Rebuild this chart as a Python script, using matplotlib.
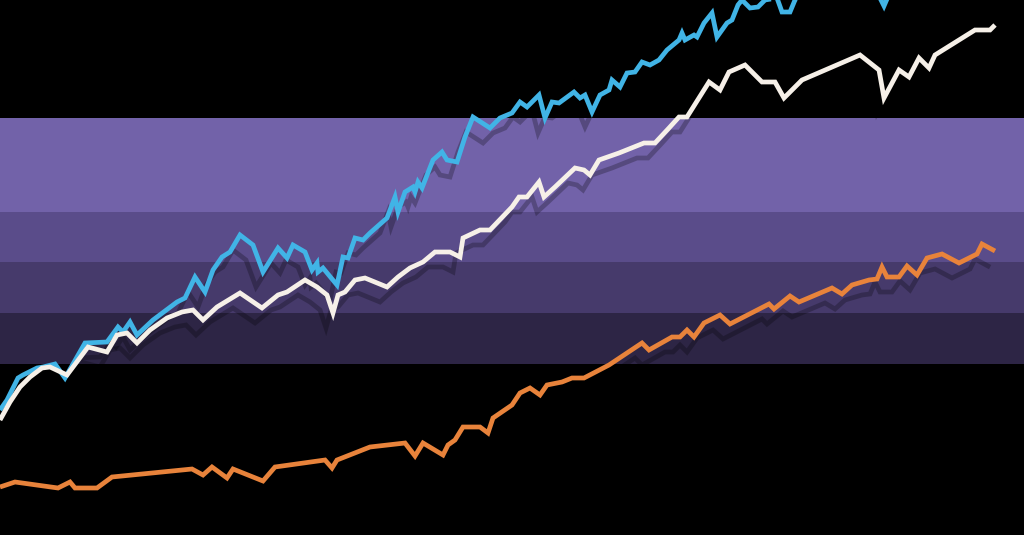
import matplotlib
matplotlib.use("Agg")
import matplotlib.pyplot as plt
import matplotlib.transforms as mtransforms

# values (x position, height in pixel rows from top)
blue_x = [0, 7, 18, 23, 37, 43, 55, 65, 85, 107, 118, 123, 130, 137, 153, 177, 185, 195, 205,
          213, 222, 230, 240, 253, 263, 278, 287, 293, 305, 312, 317, 318, 323, 337, 343, 348,
          355, 363, 370, 387, 395, 398, 405, 413, 415, 418, 422, 433, 442, 447, 457, 465, 473,
          490, 500, 512, 520, 527, 539, 545, 552, 559, 574, 580, 585, 592, 600, 609, 612, 620,
          627, 635, 642, 650, 659, 667, 679, 682, 685, 694, 697, 704, 712, 717, 727, 732, 738,
          742, 750, 758, 765, 777, 782, 790, 795, 810, 840, 865, 880, 884, 890, 930, 1000, 1024]
blue_y = [410, 400, 378, 375, 368, 367, 364, 378, 343, 342, 327, 332, 322, 335, 320, 302, 298, 277, 292,
          270, 257, 252, 235, 245, 272, 248, 258, 245, 252, 270, 263, 272, 268, 285, 257, 258,
          238, 240, 233, 218, 197, 212, 192, 187, 192, 182, 188, 160, 152, 160, 162, 137, 117,
          128, 118, 113, 102, 107, 95, 118, 102, 103, 92, 98, 95, 112, 95, 90, 80, 87,
          73, 72, 62, 65, 60, 50, 40, 33, 40, 35, 37, 23, 13, 37, 23, 20, 5,
          0, 8, 7, 0, -2, 12, 12, 0, -15, -25, -15, -2, 6, -8, -25, -40, -45]

white_x = [0, 10, 20, 30, 42, 50, 67, 88, 107, 117, 127, 137, 150, 167, 182, 193, 203, 217, 240,
           262, 278, 287, 305, 317, 327, 333, 338, 345, 355, 365, 387, 398, 410, 423, 435, 450,
           460, 463, 480, 490, 512, 519, 527, 539, 544, 555, 575, 584, 590, 599, 619, 644, 655,
           669, 679, 687, 709, 720, 729, 745, 762, 775, 784, 802, 860, 879, 884, 899, 909, 919,
           929, 935, 975, 990, 995]
white_y = [420, 402, 387, 377, 368, 367, 375, 347, 352, 335, 333, 343, 330, 318, 312, 310, 320, 307, 293,
           308, 295, 292, 280, 287, 295, 313, 295, 292, 280, 278, 287, 277, 268, 262, 252, 252,
           257, 238, 230, 230, 207, 197, 197, 182, 197, 187, 168, 170, 175, 160, 153, 143, 143,
           128, 117, 117, 82, 90, 72, 65, 82, 82, 98, 80, 55, 70, 98, 70, 77, 58,
           68, 55, 30, 30, 25]

orange_x = [0, 15, 58, 70, 75, 97, 112, 192, 203, 212, 227, 233, 263, 275, 325, 332, 337, 370, 405,
            415, 423, 443, 448, 455, 463, 480, 488, 493, 512, 520, 530, 540, 547, 562, 572, 584,
            609, 642, 649, 672, 680, 687, 694, 704, 720, 730, 769, 774, 790, 799, 832, 842, 852,
            869, 877, 882, 887, 899, 907, 917, 927, 942, 959, 977, 982, 995]
orange_y = [487, 482, 488, 482, 488, 488, 477, 469, 475, 467, 478, 469, 481, 467, 460, 468, 460, 447, 443,
            456, 443, 455, 445, 440, 427, 427, 433, 418, 405, 393, 388, 395, 385, 382, 378, 378,
            365, 343, 350, 337, 337, 330, 337, 323, 315, 324, 304, 309, 296, 302, 288, 294, 285,
            280, 279, 267, 277, 277, 266, 275, 258, 254, 263, 254, 244, 251]

band_edges = [118, 212, 262, 313, 364]
band_colors = ["#7262a9", "#5a4c8a", "#463a6b", "#2d2545"]

series = [(blue_x, blue_y, "#41b4e6"), (white_x, white_y, "#f6f0e8"), (orange_x, orange_y, "#e8833b")]

fig = plt.figure(figsize=(10.24, 5.35), dpi=100, facecolor="black")
ax = fig.add_axes([0, 0, 1, 1])
ax.set_facecolor("black")
ax.set_xlim(0, 1024)
ax.set_ylim(535, 0)
ax.axis("off")

for top, bottom, c in zip(band_edges[:-1], band_edges[1:], band_colors):
    ax.axhspan(top, bottom, color=c, lw=0, zorder=0)

# drop shadow, down and a bit to the left
shadow = ax.transData + mtransforms.ScaledTranslation(-7 / 100, -15 / 100, fig.dpi_scale_trans)
for xs, ys, c in series:
    ax.plot(xs, ys, color="black", alpha=0.25, lw=3.4, transform=shadow,
            solid_joinstyle="miter", zorder=1)

for xs, ys, c in series:
    ax.plot(xs, ys, color=c, lw=3.4, solid_joinstyle="miter", solid_capstyle="butt", zorder=2)

fig.savefig("out.png", dpi=100, facecolor="black")
